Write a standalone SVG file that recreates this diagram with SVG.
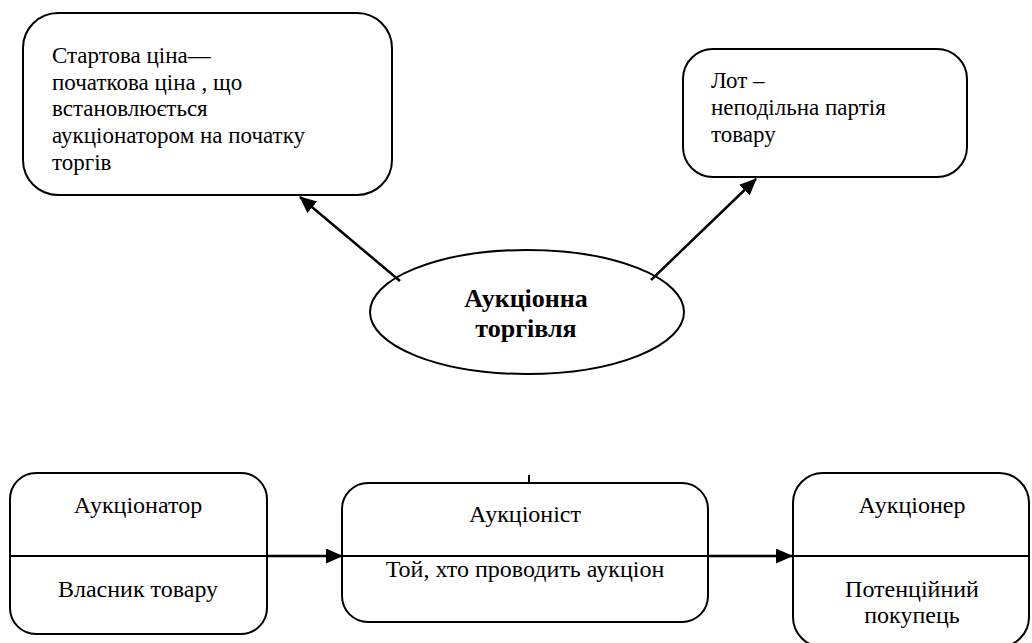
<svg xmlns="http://www.w3.org/2000/svg" width="1032" height="643" viewBox="0 0 1032 643">
<style>
.box{fill:#fff;stroke:#000;stroke-width:2}
.t{font-family:"Liberation Serif","Times New Roman",serif;font-size:23px;fill:#000}
.c{text-anchor:middle}
.m{font-size:24px}
.b{font-weight:bold;font-size:26px}
.ln{stroke:#000;stroke-width:2;fill:none}
.ar{stroke:#000;stroke-width:2.5;fill:none}
</style>
<defs>
<marker id="ah" markerWidth="17" markerHeight="15" refX="16" refY="7.5" orient="auto" markerUnits="userSpaceOnUse">
<path d="M0,0 L17,7.5 L0,15 Z" fill="#000"/>
</marker>
</defs>
<rect width="1032" height="643" fill="#fff"/>
<g id="start-price">
<rect class="box" x="23" y="13" width="369" height="182" rx="35"/>
<text class="t" x="52" y="63">Стартова ціна—</text>
<text class="t" x="52" y="89.5">початкова ціна , що</text>
<text class="t" x="52" y="116">встановлюється</text>
<text class="t" x="52" y="143">аукціонатором на початку</text>
<text class="t" x="52" y="169.5">торгів</text>
</g>
<g id="lot">
<rect class="box" x="683" y="49" width="284" height="128" rx="30"/>
<text class="t" x="711" y="88">Лот –</text>
<text class="t" x="711" y="115">неподільна партія</text>
<text class="t" x="711" y="141.5">товару</text>
</g>
<g id="auction-trade">
<ellipse class="box" cx="527" cy="312" rx="157" ry="62"/>
<text class="t c b" x="526" y="307">Аукціонна</text>
<text class="t c b" x="526" y="337">торгівля</text>
</g>
<g id="auctioneer-owner">
<rect class="box" x="10" y="473" width="257" height="161" rx="26"/>
<line class="ln" x1="10" y1="556" x2="267" y2="556"/>
<text class="t c m" x="138" y="513">Аукціонатор</text>
<text class="t c m" x="138" y="597">Власник товару</text>
</g>
<g id="auctionist">
<rect class="box" x="342" y="483" width="366" height="139" rx="26"/>
<line class="ln" x1="342" y1="556" x2="708" y2="556"/>
<text class="t c m" x="525" y="522">Аукціоніст</text>
<text class="t c m" x="525" y="577">Той, хто проводить аукціон</text>
<line class="ln" x1="529" y1="475" x2="529" y2="483"/>
</g>
<g id="bidder">
<rect class="box" x="793" y="473" width="236" height="174" rx="30"/>
<line class="ln" x1="793" y1="556" x2="1029" y2="556"/>
<text class="t c m" x="912" y="513">Аукціонер</text>
<text class="t c m" x="912" y="597">Потенційний</text>
<text class="t c m" x="912" y="623">покупець</text>
</g>
<g id="connectors">
<line class="ar" x1="400" y1="281" x2="300" y2="197" marker-end="url(#ah)"/>
<line class="ar" x1="651" y1="280" x2="756" y2="179" marker-end="url(#ah)"/>
<line class="ar" x1="267" y1="556" x2="342" y2="556" marker-end="url(#ah)"/>
<line class="ar" x1="708" y1="556" x2="792" y2="556" marker-end="url(#ah)"/>
</g>
</svg>
